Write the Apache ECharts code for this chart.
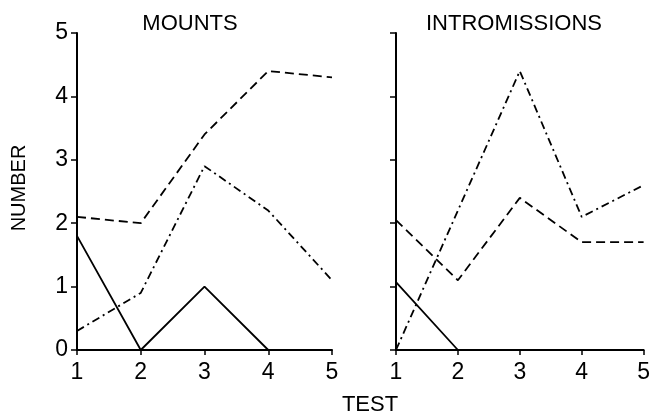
<!DOCTYPE html>
<html>
<head>
<meta charset="utf-8">
<script src="https://cdn.jsdelivr.net/npm/echarts@6/dist/echarts.min.js"></script>
<style>
  html, body { margin: 0; padding: 0; background: #fff; }
  #chart { width: 653px; height: 413px; }
</style>
</head>
<body>
<div id="chart"></div>
<script>
// Test sessions on the x axis
const tests = [1, 2, 3, 4, 5];

// Mean number of mounts per test, one array per group
const mountsDashed  = [2.1, 2.0, 3.4, 4.4, 4.3];
const mountsDashDot = [0.3, 0.9, 2.9, 2.2, 1.1];
const mountsSolid   = [1.8, 0, 1.0, 0, 0];

// Mean number of intromissions per test
const introDashed  = [2.05, 1.1, 2.4, 1.7, 1.7];
const introDashDot = [0, 2.2, 4.4, 2.1, 2.6];
const introSolid   = [1.07, 0, 0, 0, 0];

const yTicks = [0, 1, 2, 3, 4, 5];

const FONT = '"Liberation Sans", Arial, Helvetica, sans-serif';
const pairs = vals => tests.map((t, i) => [t, vals[i]]);

const dashed = [9, 5];
const dashDot = [8, 4, 2, 4];

function lineSeries(idx, vals, type) {
  return {
    type: 'line',
    xAxisIndex: idx,
    yAxisIndex: idx,
    data: pairs(vals),
    symbol: 'none',
    animation: false,
    lineStyle: { color: '#000', width: 1.8, type: type }
  };
}

function xAxis(idx) {
  return {
    type: 'value', gridIndex: idx, min: 1, max: 5, interval: 1,
    axisLine: { show: true, lineStyle: { color: '#000', width: 2 } },
    axisTick: { show: true, length: 5, lineStyle: { color: '#000', width: 1.5 } },
    axisLabel: { color: '#000', fontSize: 23, fontFamily: FONT, margin: 11 },
    splitLine: { show: false }
  };
}

function yAxis(idx, labels) {
  return {
    type: 'value', gridIndex: idx, min: yTicks[0], max: yTicks[yTicks.length - 1], interval: 1,
    axisLine: { show: true, lineStyle: { color: '#000', width: 2 } },
    axisTick: { show: true, length: 6, lineStyle: { color: '#000', width: 1.5 } },
    axisLabel: { show: labels, color: '#000', fontSize: 23, fontFamily: FONT, margin: 9 },
    splitLine: { show: false }
  };
}

function label(text, x, y, size, rotation) {
  return {
    type: 'text', x: x, y: y, rotation: rotation || 0,
    style: { text: text, fontSize: size, fontFamily: FONT, fill: '#000', align: 'center', verticalAlign: 'middle' }
  };
}

const chart = echarts.init(document.getElementById('chart'), null, { renderer: 'canvas' });
chart.setOption({
  backgroundColor: '#fff',
  animation: false,
  grid: [
    { left: 77, right: 321, top: 33, bottom: 63 },
    { left: 396, right: 5, top: 33, bottom: 63 }
  ],
  xAxis: [xAxis(0), xAxis(1)],
  yAxis: [yAxis(0, true), yAxis(1, false)],
  graphic: [
    label('MOUNTS', 190, 24, 22),
    label('INTROMISSIONS', 514, 24, 22),
    label('TEST', 370, 405, 22),
    label('NUMBER', 19, 188, 20, Math.PI / 2)
  ],
  series: [
    lineSeries(0, mountsDashed, dashed),
    lineSeries(0, mountsDashDot, dashDot),
    lineSeries(0, mountsSolid, 'solid'),
    lineSeries(1, introDashed, dashed),
    lineSeries(1, introDashDot, dashDot),
    lineSeries(1, introSolid, 'solid')
  ]
});
</script>
</body>
</html>
